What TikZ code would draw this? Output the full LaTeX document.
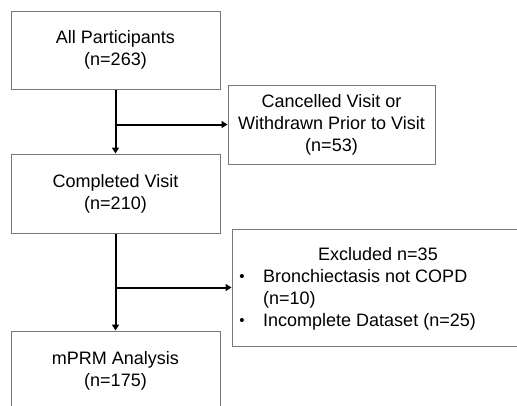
\documentclass[tikz,border=0pt]{standalone}
\usepackage{fontspec}
\setmainfont{Liberation Sans}
\usetikzlibrary{arrows.meta}
\definecolor{boxgray}{RGB}{120,120,120}
\tikzset{
  box/.style={draw=boxgray, line width=1pt, rectangle, inner sep=0pt, align=center,
    font=\fontsize{18}{22}\selectfont},
  txt/.style={inner sep=0pt, font=\fontsize{18}{22}\selectfont, text height=13pt, text depth=4pt},
  bul/.style={inner sep=0pt, font=\fontsize{15}{17}\selectfont},
  arr/.style={line width=2pt, -{Triangle[length=6pt,width=7pt]}},
}
\begin{document}
\begin{tikzpicture}[x=1pt,y=-1pt]
\useasboundingbox (0,0) rectangle (517,405);
\clip (0,0) rectangle (517,405);
\fill[white] (0,0) rectangle (517,405);
\node[box, minimum width=209pt, minimum height=78pt] (all) at (115.5,50) {All Participants\\(n=263)};
\node[box, minimum width=209pt, minimum height=79pt] (comp) at (115.5,193.5) {Completed Visit\\(n=210)};
\node[box, minimum width=209pt, minimum height=80pt] (mprm) at (115.5,371) {mPRM Analysis\\(n=175)};
\node[box, minimum width=207pt, minimum height=79pt] (cancel) at (331.5,124.5) {Cancelled Visit or\\Withdrawn Prior to Visit\\(n=53)};
\node[box, minimum width=313pt, minimum height=117pt] (excl) at (388.5,287.5) {};
\node[txt] (exh) at (378,256) {Excluded n=35};
\node[bul] (b1) at (242,278) {•};
\node[txt, anchor=west] (e1) at (263,278) {Bronchiectasis not COPD};
\node[txt, anchor=west] (e2) at (263,300) {(n=10)};
\node[bul] (b2) at (242,322) {•};
\node[txt, anchor=west] (e3) at (263,322) {Incomplete Dataset (n=25)};
\draw[arr] (all.south) -- (comp.north);
\draw[arr] (all.south |- cancel.west) -- (cancel.west);
\draw[arr] (comp.south) -- (mprm.north);
\draw[arr] (comp.south |- excl.west) -- (excl.west);
\end{tikzpicture}
\end{document}
